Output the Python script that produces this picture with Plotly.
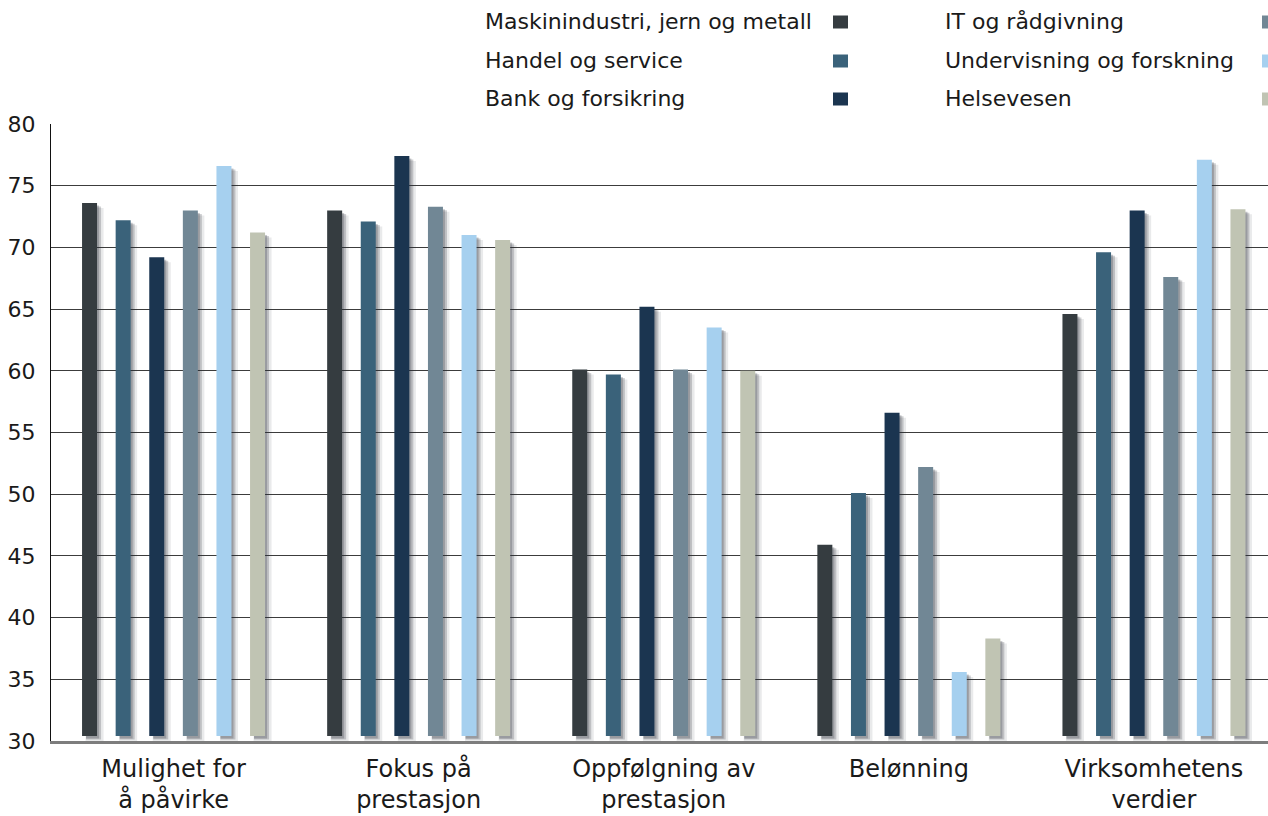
import plotly.graph_objects as go

# Categories and tick labels
categories = ["Mulighet for å påvirke", "Fokus på prestasjon", "Oppfølgning av prestasjon",
              "Belønning", "Virksomhetens verdier"]
tick_labels = ["Mulighet for<br>å påvirke", "Fokus på<br>prestasjon", "Oppfølgning av<br>prestasjon",
               "Belønning", "Virksomhetens<br>verdier"]

# Series values (one per category)
maskin = [73.6, 73.0, 60.1, 45.9, 64.6]
handel = [72.2, 72.1, 59.7, 50.1, 69.6]
bank = [69.2, 77.4, 65.2, 56.6, 73.0]
it_raad = [73.0, 73.3, 60.1, 52.2, 67.6]
undervisning = [76.6, 71.0, 63.5, 35.6, 77.1]
helse = [71.2, 70.6, 60.0, 38.3, 73.1]

series_names = ["Maskinindustri, jern og metall", "Handel og service", "Bank og forsikring",
                "IT og rådgivning", "Undervisning og forskning", "Helsevesen"]
series_values = [maskin, handel, bank, it_raad, undervisning, helse]
colors = ["#353c40", "#3a627a", "#1b3550", "#718795", "#a6d0ef", "#c0c4b3"]

y_ticks = [30, 35, 40, 45, 50, 55, 60, 65, 70, 75, 80]

# Layout geometry (pixels)
W, H = 1268, 816
ML, MR, MT, MB = 51, 0, 124, 75
PW, PH = W - ML - MR, H - MT - MB
CAT_PX = 245.1                      # pixel width of one category
X_SPAN = PW / CAT_PX
BAR_STEP = 33.6 / CAT_PX
BAR_W = 15 / CAT_PX
BASE = 30.4
PX_Y = 50 / PH                      # data units per pixel (y)

x_pos = list(range(len(categories)))

fig = go.Figure()

# soft drop shadows behind each bar
for i, vals in enumerate(series_values):
    centre = (i - 2.5) * BAR_STEP
    for dx, dy, extra, alpha in [(5, 5, 3, 0.10), (4, 3.5, 0, 0.22), (3, 2.5, -2, 0.25)]:
        fig.add_trace(go.Bar(
            x=x_pos,
            y=[v - BASE for v in vals],
            base=BASE - dy * PX_Y,
            offset=centre - BAR_W / 2 + (dx - extra / 2) / CAT_PX,
            width=BAR_W + extra / CAT_PX,
            marker=dict(color=f"rgba(40,45,55,{alpha})", line=dict(width=0)),
            showlegend=False, hoverinfo="skip",
        ))

# bars
for i, (name, vals, col) in enumerate(zip(series_names, series_values, colors)):
    centre = (i - 2.5) * BAR_STEP
    fig.add_trace(go.Bar(
        x=x_pos,
        y=[v - BASE for v in vals],
        base=BASE,
        offset=centre - BAR_W / 2,
        width=BAR_W,
        name=name,
        marker=dict(color=col, line=dict(width=0)),
        customdata=vals,
        hovertemplate="%{customdata}<extra>" + name + "</extra>",
        showlegend=False,
    ))

FONT = "DejaVu Sans, sans-serif"
TXT = "#1a1a1a"

# legend drawn as text followed by a colour swatch
legend_rows_px = [22, 61, 99]
legend_cols = [(483, 833), (943, 1262)]
annotations, shapes = [], []
for k, (name, col) in enumerate(zip(series_names, colors)):
    tx, sx = legend_cols[k // 3]
    py = legend_rows_px[k % 3]
    yc = (H - MB - py) / PH
    annotations.append(dict(
        x=(tx - ML) / PW, y=yc, xref="paper", yref="paper",
        text=name, showarrow=False, xanchor="left", yanchor="middle",
        font=dict(family=FONT, size=22, color=TXT),
    ))
    shapes.append(dict(
        type="rect", xref="paper", yref="paper",
        x0=(sx - ML) / PW, x1=(sx + 15 - ML) / PW,
        y0=yc - 6.5 / PH, y1=yc + 6.5 / PH,
        fillcolor=col, line=dict(width=0),
    ))

fig.update_layout(
    width=W, height=H,
    margin=dict(l=ML, r=MR, t=MT, b=MB, pad=0),
    paper_bgcolor="white", plot_bgcolor="white",
    barmode="overlay",
    showlegend=False,
    font=dict(family=FONT, color=TXT),
    annotations=annotations,
    shapes=shapes,
    xaxis=dict(
        range=[-0.5, -0.5 + X_SPAN],
        tickmode="array", tickvals=x_pos, ticktext=tick_labels,
        tickfont=dict(family=FONT, size=24, color=TXT),
        showgrid=False, zeroline=False,
        showline=True, linecolor="#7d7d7d", linewidth=2.5,
        ticks="", ticklabelstandoff=4,
    ),
    yaxis=dict(
        range=[30, 80],
        tickmode="array", tickvals=y_ticks,
        tickfont=dict(family=FONT, size=22, color=TXT),
        showgrid=True, gridcolor="#3c3c3c", gridwidth=1.2,
        zeroline=False,
        showline=True, linecolor="#111111", linewidth=1.2,
        ticks="", ticklabelstandoff=10,
    ),
)

fig.write_html("out.html")
